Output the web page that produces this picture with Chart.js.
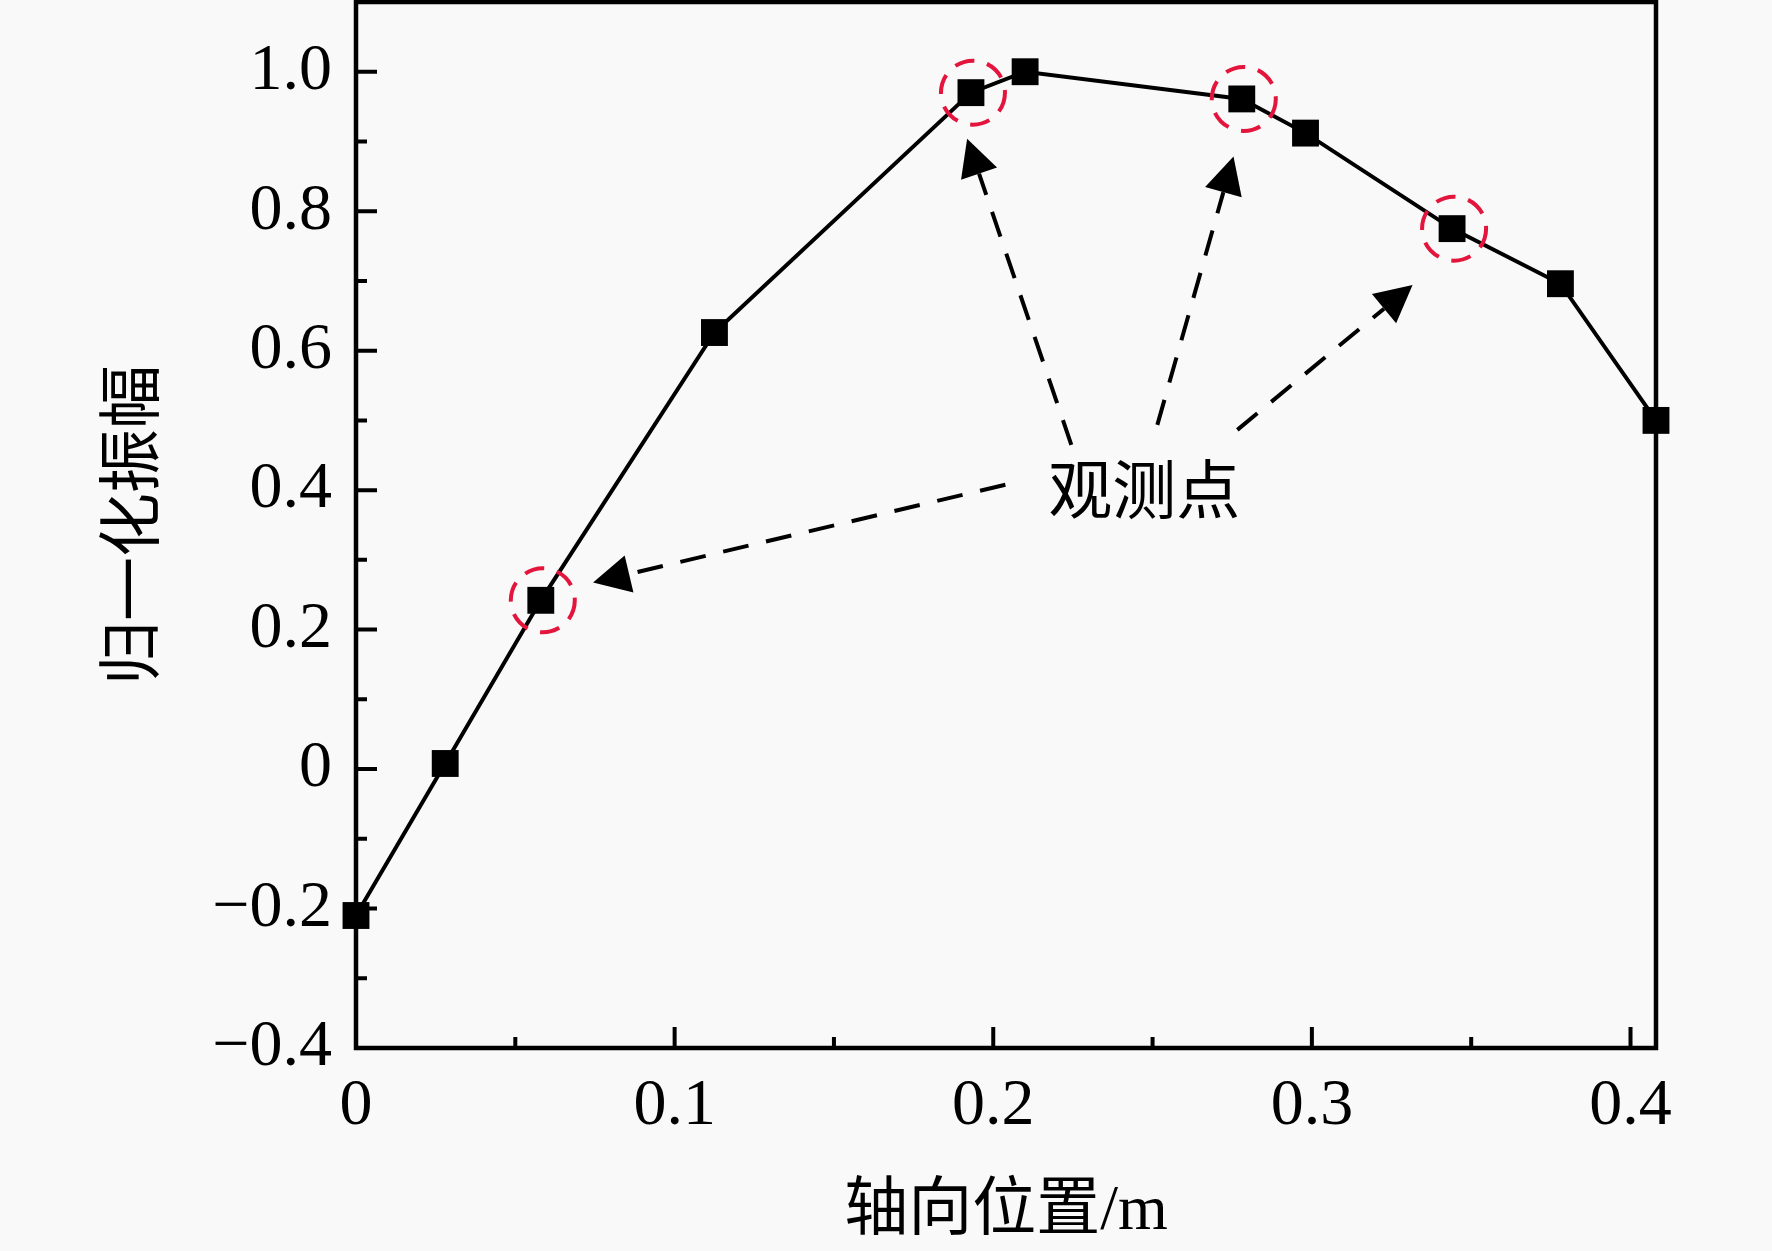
<!DOCTYPE html>
<html>
<head>
<meta charset="utf-8">
<script src="https://cdn.jsdelivr.net/npm/chart.js@4.4.0/dist/chart.umd.min.js"></script>
<style>
  html, body { margin: 0; padding: 0; background: #f9f9f9; }
  #wrap { width: 1772px; height: 1251px; }
</style>
</head>
<body>
<div id="wrap"><canvas id="ampChart"></canvas></div>
<script>
// axial position (m) / normalized amplitude
const axialPos = [0, 0.028, 0.058, 0.1125, 0.193, 0.21, 0.278, 0.298, 0.344, 0.378, 0.408];
const normAmp = [-0.21, 0.008, 0.242, 0.626, 0.97, 1.0, 0.961, 0.912, 0.775, 0.696, 0.5];
// which points are observation points (circled)
const observed = [2, 4, 6, 8];

const xTicks = [0, 0.1, 0.2, 0.3, 0.4];
const xTickLabels = ['0', '0.1', '0.2', '0.3', '0.4'];
const yTicks = [-0.4, -0.2, 0, 0.2, 0.4, 0.6, 0.8, 1.0];
const yTickLabels = ['\u22120.4', '\u22120.2', '0', '0.2', '0.4', '0.6', '0.8', '1.0'];
const xMinor = [0.05, 0.15, 0.25, 0.35];
const yMinor = [-0.3, -0.1, 0.1, 0.3, 0.5, 0.7, 0.9];

const noteText = '观测点';

// annotation placement, in data units
const notePos = { x: 0.2474, y: 0.402 };
const arrows = [
    { from: [0.2038, 0.4077], to: [0.0744, 0.2675] },
    { from: [0.2245, 0.465], to: [0.1918, 0.904] },
    { from: [0.2515, 0.4936], to: [0.2754, 0.8784] },
    { from: [0.2766, 0.4864], to: [0.3316, 0.694] }
];

const serif = "'Liberation Serif', 'Times New Roman', 'Noto Sans CJK SC', serif";
const cjk = "'Liberation Serif', 'Noto Sans CJK SC', sans-serif";

// frame + inward ticks, rings, arrows, note
const framePlugin = {
    id: 'frame',
    beforeDatasetsDraw(chart) {
        const { ctx, chartArea: a, scales: { x, y } } = chart;
        ctx.save();
        ctx.strokeStyle = '#000';
        ctx.lineWidth = 4.5;
        ctx.lineCap = 'square';
        ctx.strokeRect(a.left, a.top, a.right - a.left, a.bottom - a.top);
        ctx.lineCap = 'butt';
        ctx.lineWidth = 4;
        ctx.beginPath();
        xTicks.forEach(v => {
            const px = x.getPixelForValue(v);
            ctx.moveTo(px, a.bottom); ctx.lineTo(px, a.bottom - 21);
        });
        xMinor.forEach(v => {
            const px = x.getPixelForValue(v);
            ctx.moveTo(px, a.bottom); ctx.lineTo(px, a.bottom - 11);
        });
        yTicks.forEach(v => {
            const py = y.getPixelForValue(v);
            ctx.moveTo(a.left, py); ctx.lineTo(a.left + 21, py);
        });
        yMinor.forEach(v => {
            const py = y.getPixelForValue(v);
            ctx.moveTo(a.left, py); ctx.lineTo(a.left + 11, py);
        });
        ctx.stroke();
        ctx.restore();
    },
    afterDatasetsDraw(chart) {
        const { ctx, scales: { x, y } } = chart;
        ctx.save();
        // red dashed rings round the observation points
        ctx.strokeStyle = '#e3153c';
        ctx.lineWidth = 4;
        ctx.setLineDash([20, 13]);
        observed.forEach(i => {
            ctx.beginPath();
            ctx.arc(x.getPixelForValue(axialPos[i]) + 2, y.getPixelForValue(normAmp[i]), 32, 0, Math.PI * 2);
            ctx.stroke();
        });

        // dashed arrows
        ctx.strokeStyle = '#000';
        ctx.fillStyle = '#000';
        ctx.lineWidth = 4;
        arrows.forEach(ar => {
            const x0 = x.getPixelForValue(ar.from[0]), y0 = y.getPixelForValue(ar.from[1]);
            const x1 = x.getPixelForValue(ar.to[0]), y1 = y.getPixelForValue(ar.to[1]);
            const ang = Math.atan2(y1 - y0, x1 - x0);
            const headLen = 37, headHalf = 19;
            const bx = x1 - headLen * Math.cos(ang), by = y1 - headLen * Math.sin(ang);
            ctx.setLineDash([26, 18]);
            ctx.beginPath();
            ctx.moveTo(x0, y0);
            ctx.lineTo(bx, by);
            ctx.stroke();
            ctx.setLineDash([]);
            ctx.beginPath();
            ctx.moveTo(x1, y1);
            ctx.lineTo(bx + headHalf * Math.sin(ang), by - headHalf * Math.cos(ang));
            ctx.lineTo(bx - headHalf * Math.sin(ang), by + headHalf * Math.cos(ang));
            ctx.closePath();
            ctx.fill();
        });

        ctx.font = "64px 'Noto Sans CJK SC', sans-serif";
        ctx.textAlign = 'center';
        ctx.textBaseline = 'middle';
        ctx.fillText(noteText, x.getPixelForValue(notePos.x), y.getPixelForValue(notePos.y));
        ctx.restore();
    }
};

const ctx = document.getElementById('ampChart').getContext('2d');
const ampChart = new Chart(ctx, {
    type: 'line',
    data: {
        datasets: [{
            data: axialPos.map((v, i) => ({ x: v, y: normAmp[i] })),
            borderColor: '#000',
            borderWidth: 4,
            backgroundColor: '#000',
            pointStyle: 'rect',
            pointRadius: 19,
            pointHoverRadius: 19,
            pointBorderWidth: 0,
            tension: 0,
            clip: false
        }]
    },
    options: {
        responsive: true,
        maintainAspectRatio: false,
        animation: false,
        layout: { autoPadding: false, padding: { top: 2, right: 116, bottom: 0, left: 0 } },
        plugins: {
            legend: { display: false },
            tooltip: { enabled: false }
        },
        scales: {
            x: {
                type: 'linear',
                min: 0,
                max: 0.408,
                afterBuildTicks: s => { s.ticks = xTicks.map(v => ({ value: v })); },
                afterFit: s => {
                    s.height = 203;
                    s.paddingLeft = 0; s.paddingRight = 0;
                },
                grid: { display: false, drawTicks: false },
                border: { display: false },
                ticks: {
                    autoSkip: false,
                    maxRotation: 0,
                    padding: 19,
                    color: '#000',
                    font: { family: serif, size: 66 },
                    callback: (v, i) => xTickLabels[i]
                },
                title: {
                    display: true,
                    text: '轴向位置/m',
                    color: '#000',
                    font: { family: cjk, size: 64 },
                    padding: { top: 0, bottom: 0 }
                }
            },
            y: {
                min: -0.4,
                max: 1.1,
                afterBuildTicks: s => { s.ticks = yTicks.map(v => ({ value: v })); },
                afterFit: s => {
                    s.width = 356;
                    s.paddingTop = 0; s.paddingBottom = 0;
                },
                grid: { display: false, drawTicks: false },
                border: { display: false },
                ticks: {
                    autoSkip: false,
                    padding: 24,
                    color: '#000',
                    font: { family: serif, size: 66 },
                    callback: (v, i) => yTickLabels[i]
                },
                title: {
                    display: true,
                    text: '归一化振幅',
                    color: '#000',
                    font: { family: cjk, size: 64 },
                    padding: { top: 98, bottom: 0 }
                }
            }
        }
    },
    plugins: [framePlugin]
});
</script>
</body>
</html>
